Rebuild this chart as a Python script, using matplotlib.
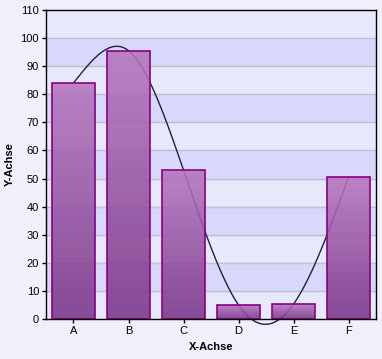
import numpy as np
import matplotlib.pyplot as plt
from matplotlib.patches import Rectangle

# data
categories = ["A", "B", "C", "D", "E", "F"]
values = [84, 95.5, 53, 5, 5.3, 50.5]
yticks = list(range(0, 111, 10))


def natural_spline(xs, ys, n=300):
    # natural cubic spline through the bar tops
    xs = np.asarray(xs, float)
    ys = np.asarray(ys, float)
    k = len(xs)
    h = np.diff(xs)
    A = np.zeros((k, k))
    b = np.zeros(k)
    A[0, 0] = A[-1, -1] = 1
    for i in range(1, k - 1):
        A[i, i - 1] = h[i - 1]
        A[i, i] = 2 * (h[i - 1] + h[i])
        A[i, i + 1] = h[i]
        b[i] = 3 * ((ys[i + 1] - ys[i]) / h[i] - (ys[i] - ys[i - 1]) / h[i - 1])
    c = np.linalg.solve(A, b)
    xx = np.linspace(xs[0], xs[-1], n)
    yy = np.empty(n)
    for j, x in enumerate(xx):
        i = min(np.searchsorted(xs, x, side="right") - 1, k - 2)
        d = x - xs[i]
        bi = (ys[i + 1] - ys[i]) / h[i] - h[i] * (2 * c[i] + c[i + 1]) / 3
        di = (c[i + 1] - c[i]) / (3 * h[i])
        yy[j] = ys[i] + bi * d + c[i] * d ** 2 + di * d ** 3
    return xx, yy


plt.rcParams["font.family"] = ["Liberation Sans", "DejaVu Sans"]
fig = plt.figure(figsize=(3.82, 3.59), dpi=100, facecolor="#f0f0fc")
ax = fig.add_axes([0.1204, 0.1114, 0.864, 0.861])
ax.set_facecolor("#e8e8fc")

x = np.arange(len(categories))

# alternating bands
for i in range(1, 11, 2):
    ax.axhspan(i * 10, i * 10 + 10, color="#d8d8fc", zorder=0)
for t in yticks[1:-1]:
    ax.axhline(t, color="#c0c0c8", lw=1, zorder=1)

# curve sits behind the see-through bars
sx, sy = natural_spline(x, values)
ax.plot(sx, sy, color="#202040", lw=1, zorder=1.5, clip_on=False)

# gradient bars
grad = np.linspace(0, 1, 256).reshape(-1, 1)
cmap = plt.matplotlib.colors.LinearSegmentedColormap.from_list("p", ["#7a3488", "#b676be"])
width = 0.78
bars = ax.bar(x, values, width=width, color="none", edgecolor="#880088", lw=1.2, zorder=3)
for bar in bars:
    bx, by = bar.get_x(), bar.get_y()
    bw, bh = bar.get_width(), bar.get_height()
    im = ax.imshow(grad, extent=[bx, bx + bw, by, by + bh], origin="lower",
                   cmap=cmap, aspect="auto", zorder=2, alpha=0.88)
    im.set_clip_path(Rectangle((bx, by), bw, bh, transform=ax.transData))
ax.set_xlim(-0.5, len(categories) - 0.5)
ax.set_ylim(0, 110)

ax.set_xticks(x)
ax.set_xticklabels(categories)
ax.set_yticks(yticks)
ax.tick_params(labelsize=8, length=3, width=1, pad=2)
for s in ax.spines.values():
    s.set_linewidth(1)
    s.set_zorder(5)
ax.set_xlabel("X-Achse", fontsize=8, fontweight="bold", labelpad=4)
ax.set_ylabel("Y-Achse", fontsize=8, fontweight="bold", labelpad=4)

fig.savefig("out.png", dpi=100, facecolor=fig.get_facecolor())
